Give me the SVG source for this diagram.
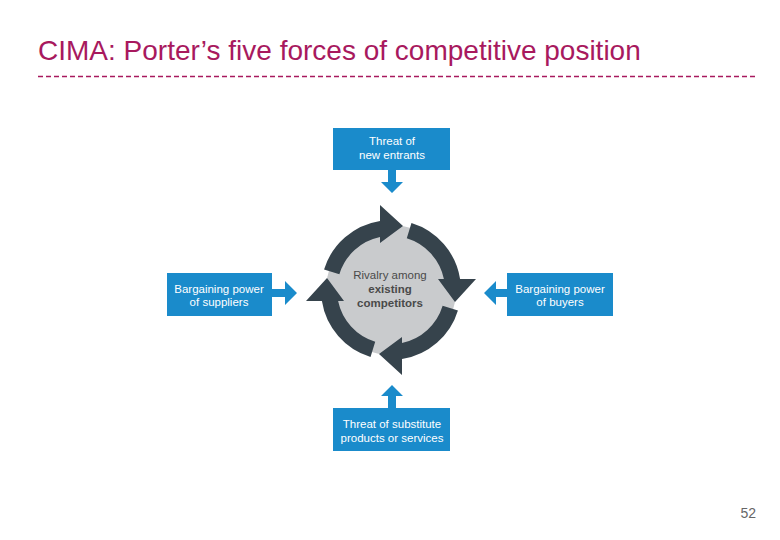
<svg xmlns="http://www.w3.org/2000/svg" width="780" height="540" viewBox="0 0 780 540">
<style>
.box{fill:#1a8bcb}
.bt{font-family:"Liberation Sans",Arial,sans-serif;font-size:11.5px;fill:#fff;text-anchor:middle}
.arr{fill:#1a8bcb}
.ring{fill:#36434c}
.ct{font-family:"Liberation Sans",Arial,sans-serif;font-size:11.5px;fill:#4a4a4a;text-anchor:middle}
</style>
<defs>
<path id="cyc" d="M -66.94 -20.47 A 70 70 0 0 1 -11 -69.1 L -11 -85 L 12 -64 L -11 -47 L -11 -52.9 A 54 54 0 0 0 -51.64 -15.79 Z"/>
</defs>
<rect width="780" height="540" fill="#fff"/>
<text x="38" y="60" font-family="Liberation Sans,Arial,sans-serif" font-size="28" fill="#a8195e">CIMA: Porter’s five forces of competitive position</text>
<line x1="38" y1="76.5" x2="757" y2="76.5" stroke="#a8195e" stroke-width="1.5" stroke-dasharray="5 3"/>

<g id="rivalry">
<circle cx="391" cy="290" r="65" fill="#c9cbcd"/>
<g class="ring">
<use href="#cyc" transform="translate(391 290)"/>
<use href="#cyc" transform="translate(391 290) rotate(90)"/>
<use href="#cyc" transform="translate(391 290) rotate(180)"/>
<use href="#cyc" transform="translate(391 290) rotate(270)"/>
</g>
<text class="ct" x="390" y="279">Rivalry among</text>
<text class="ct" x="390" y="293" font-weight="bold">existing</text>
<text class="ct" x="390" y="307" font-weight="bold">competitors</text>
</g>

<g id="new-entrants">
<rect class="box" x="333" y="128" width="117" height="42"/>
<text class="bt" x="392" y="145">Threat of</text>
<text class="bt" x="392" y="159">new entrants</text>
</g>
<g id="suppliers">
<rect class="box" x="167" y="273" width="105" height="43"/>
<text class="bt" x="219" y="293">Bargaining power</text>
<text class="bt" x="219" y="306">of suppliers</text>
</g>
<g id="buyers">
<rect class="box" x="507" y="273" width="106" height="43"/>
<text class="bt" x="560" y="293">Bargaining power</text>
<text class="bt" x="560" y="306">of buyers</text>
</g>
<g id="substitutes">
<rect class="box" x="333" y="408" width="117" height="43"/>
<text class="bt" x="392" y="428">Threat of substitute</text>
<text class="bt" x="392" y="442">products or services</text>
</g>

<g id="connectors" class="arr">
<path d="M388 170 H396 V182 H403 L392 193 L381 182 H388 Z"/>
<path d="M388 408 H396 V396 H403 L392 385 L381 396 H388 Z"/>
<path d="M272 289 H285 V281 L297 293 L285 305 V297 H272 Z"/>
<path d="M507 289 H496 V281 L484 293 L496 305 V297 H507 Z"/>
</g>

<text x="756" y="518" text-anchor="end" font-family="Liberation Sans,Arial,sans-serif" font-size="14" fill="#666">52</text>
</svg>
